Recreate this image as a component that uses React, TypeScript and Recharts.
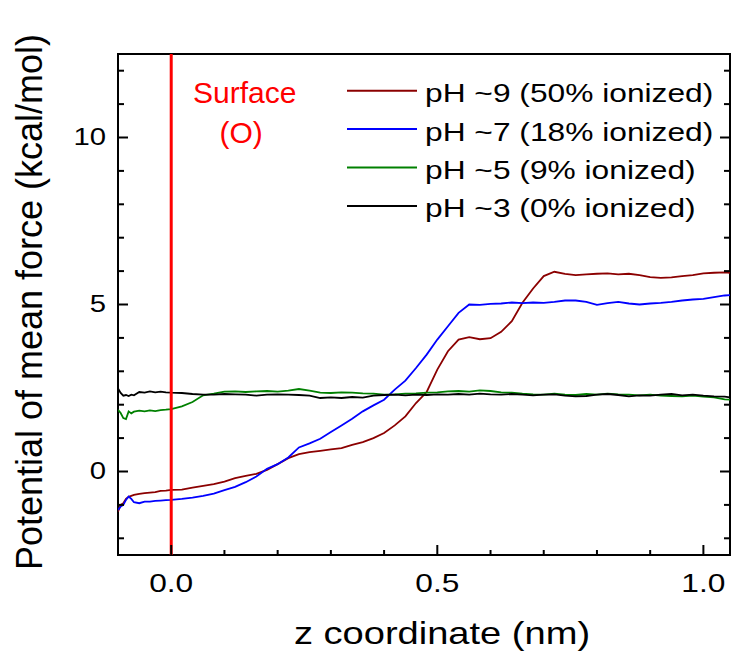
import React from "react";
import { LineChart, Line, XAxis, YAxis, ReferenceLine, ReferenceArea } from "recharts";

// z coordinate (nm)
const zCoord = [
  -0.1, -0.095, -0.09, -0.085, -0.08, -0.075, -0.07, -0.06, -0.05, -0.04, -0.03, -0.02, -0.01,
  0, 0.02, 0.04, 0.06, 0.08, 0.1, 0.12, 0.14, 0.16, 0.18, 0.2, 0.22, 0.24, 0.26, 0.28, 0.3,
  0.32, 0.34, 0.36, 0.38, 0.4, 0.42, 0.44, 0.46, 0.48, 0.5, 0.52, 0.54, 0.56, 0.58, 0.6,
  0.62, 0.64, 0.66, 0.68, 0.7, 0.72, 0.74, 0.76, 0.78, 0.8, 0.82, 0.84, 0.86, 0.88, 0.9,
  0.92, 0.94, 0.96, 0.98, 1.0, 1.02, 1.04, 1.05,
];

// PMF (kcal/mol), one list per pH
const ph9 = [
  -1.2, -1.0, -0.95, -0.82, -0.76, -0.73, -0.7, -0.67, -0.65, -0.63, -0.62, -0.58, -0.57,
  -0.55, -0.54, -0.48, -0.43, -0.38, -0.3, -0.2, -0.13, -0.07, 0.05, 0.22, 0.4, 0.52, 0.58, 0.62, 0.66,
  0.7, 0.8, 0.88, 1.0, 1.15, 1.38, 1.65, 2.05, 2.38, 3.05, 3.6, 3.95, 4.02, 3.96, 3.99,
  4.18, 4.5, 5.05, 5.48, 5.85, 5.98, 5.92, 5.88, 5.9, 5.92, 5.93, 5.9, 5.92, 5.88, 5.82,
  5.8, 5.81, 5.85, 5.88, 5.93, 5.95, 5.96, 5.95,
];
const ph7 = [
  -1.15, -1.05, -1.0, -0.85, -0.75, -0.82, -0.92, -0.95, -0.9, -0.9, -0.88, -0.87, -0.86,
  -0.85, -0.82, -0.78, -0.73, -0.66, -0.56, -0.46, -0.32, -0.15, 0.08, 0.22, 0.42, 0.72, 0.84, 0.98, 1.18,
  1.38, 1.58, 1.8, 1.98, 2.15, 2.45, 2.72, 3.1, 3.5, 3.95, 4.35, 4.75, 5.0, 4.99, 5.02,
  5.03, 5.06, 5.04, 5.06, 5.05, 5.08, 5.12, 5.12, 5.08, 4.99, 5.04, 5.08, 5.03, 5.0, 5.03,
  5.05, 5.08, 5.12, 5.15, 5.17, 5.22, 5.27, 5.28,
];
const ph5 = [
  1.85, 1.75, 1.6, 1.57, 1.8, 1.74, 1.79, 1.82, 1.8, 1.83, 1.81, 1.84, 1.85,
  1.87, 1.95, 2.08, 2.28, 2.33, 2.39, 2.4, 2.38, 2.4, 2.41, 2.39, 2.42, 2.47, 2.42, 2.36, 2.35,
  2.37, 2.36, 2.34, 2.33, 2.3, 2.31, 2.33, 2.34, 2.36, 2.37, 2.4, 2.41, 2.39, 2.43, 2.41,
  2.37, 2.36, 2.33, 2.31, 2.3, 2.33, 2.3, 2.29, 2.32, 2.3, 2.33, 2.31, 2.3, 2.28, 2.3,
  2.27, 2.26, 2.25, 2.27, 2.24, 2.22, 2.16, 2.15,
];
const ph3 = [
  2.49, 2.35, 2.27, 2.29, 2.26, 2.3, 2.28, 2.38, 2.36, 2.4, 2.37, 2.39, 2.37,
  2.36, 2.35, 2.32, 2.3, 2.3, 2.32, 2.31, 2.3, 2.27, 2.3, 2.31, 2.3, 2.29, 2.27, 2.2, 2.22,
  2.2, 2.23, 2.21, 2.27, 2.29, 2.3, 2.28, 2.3, 2.29, 2.31, 2.3, 2.32, 2.3, 2.33, 2.31,
  2.3, 2.32, 2.3, 2.28, 2.3, 2.31, 2.27, 2.25, 2.26, 2.3, 2.32, 2.29, 2.25, 2.28, 2.27,
  2.3, 2.32, 2.28, 2.3, 2.27, 2.25, 2.24, 2.22,
];

const seriesKeys = ["ph9", "ph7", "ph5", "ph3"];
const seriesLabels = [
  "pH ~9 (50% ionized)",
  "pH ~7 (18% ionized)",
  "pH ~5 (9% ionized)",
  "pH ~3 (0% ionized)",
];
const seriesColors = ["#8b0000", "#0000ff", "#008000", "#000000"];

const xTicks = [-0.1, 0, 0.1, 0.2, 0.3, 0.4, 0.5, 0.6, 0.7, 0.8, 0.9, 1.0];
const yTicks = [-2, -1, 0, 1, 2, 3, 4, 5, 6, 7, 8, 9, 10, 11, 12];

const data = zCoord.map((z, i) => ({
  z,
  ph9: ph9[i],
  ph7: ph7[i],
  ph5: ph5[i],
  ph3: ph3[i],
}));

// plot box in page pixels
const LEFT = 118;
const RIGHT = 730;
const TOP = 54;
const BOTTOM = 555;
const FONT = "'Liberation Sans', Arial, sans-serif";

function XTick(props: any) {
  const { x, payload } = props;
  const v = payload.value;
  const major = Math.abs(v * 2 - Math.round(v * 2)) < 1e-9;
  return (
    <g>
      <line x1={x} y1={BOTTOM} x2={x} y2={BOTTOM - (major ? 10 : 5)} stroke="#000" strokeWidth={2} />
      {major && (
        <text
          transform={`translate(${x},592) scale(1.22,1)`}
          textAnchor="middle"
          fontFamily={FONT}
          fontSize={26}
          fill="#000"
        >
          {v.toFixed(1)}
        </text>
      )}
    </g>
  );
}

function YTick(props: any) {
  const { y, payload } = props;
  const v = payload.value;
  const major = v % 5 === 0;
  const len = major ? 10 : 6;
  return (
    <g>
      <line x1={LEFT} y1={y} x2={LEFT + len} y2={y} stroke="#000" strokeWidth={2} />
      <line x1={RIGHT - len} y1={y} x2={RIGHT} y2={y} stroke="#000" strokeWidth={2} />
      {major && (
        <text
          transform={`translate(106,${y + 7}) scale(1.22,1)`}
          textAnchor="end"
          fontFamily={FONT}
          fontSize={24}
          fill="#000"
        >
          {v}
        </text>
      )}
    </g>
  );
}

function SurfaceLabel(props: any) {
  const vb = props.viewBox || { x: 171.5, y: TOP };
  return (
    <g fontFamily={FONT} fontSize={30} fill="#ff0000">
      <text x={vb.x + 73.5} y={vb.y + 49} textAnchor="middle">
        Surface
      </text>
      <text x={vb.x + 70} y={vb.y + 89} textAnchor="middle">
        (O)
      </text>
    </g>
  );
}

function LegendBox() {
  return (
    <svg
      width={732}
      height={652}
      style={{ position: "absolute", left: 0, top: 0, pointerEvents: "none" }}
    >
      {seriesLabels.map((label, i) => {
        const y = 90.7 + i * 38.4;
        return (
          <g key={label}>
            <line x1={347} y1={y} x2={417} y2={y} stroke={seriesColors[i]} strokeWidth={2} />
            <text
              transform={`translate(425,${y + 11.5}) scale(1.22,1)`}
              fontFamily={FONT}
              fontSize={26}
              fill="#000"
            >
              {label}
            </text>
          </g>
        );
      })}
    </svg>
  );
}

export default function App() {
  return (
    <div style={{ position: "absolute", left: 0, top: 0, width: 732, height: 652, background: "#fff" }}>
      <LineChart
        width={732}
        height={652}
        data={data}
        margin={{ top: TOP, right: 732 - RIGHT, bottom: 0, left: 0 }}
      >
        <XAxis
          dataKey="z"
          type="number"
          domain={[-0.1, 1.05]}
          ticks={xTicks}
          interval={0}
          allowDataOverflow
          height={652 - BOTTOM}
          axisLine={false}
          tickLine={false}
          tick={XTick}
          label={() => (
            <text
              transform="translate(442,644) scale(1.19,1)"
              textAnchor="middle"
              fontFamily={FONT}
              fontSize={32}
              fill="#000"
            >
              z coordinate (nm)
            </text>
          )}
        />
        <YAxis
          type="number"
          domain={[-2.5, 12.5]}
          ticks={yTicks}
          interval={0}
          allowDataOverflow
          width={LEFT}
          axisLine={false}
          tickLine={false}
          tick={YTick}
          label={() => (
            <text
              transform="translate(42,302) rotate(-90)"
              textAnchor="middle"
              fontFamily={FONT}
              fontSize={36}
              fill="#000"
            >
              Potential of mean force (kcal/mol)
            </text>
          )}
        />
        {seriesKeys.map((k, i) => (
          <Line
            key={k}
            dataKey={k}
            type="linear"
            stroke={seriesColors[i]}
            strokeWidth={1.8}
            dot={false}
            isAnimationActive={false}
          />
        ))}
        <ReferenceLine x={0} stroke="#ff0000" strokeWidth={3} label={SurfaceLabel} />
        <ReferenceArea
          x1={-0.1}
          x2={1.05}
          y1={-2.5}
          y2={12.5}
          fill="none"
          stroke="#000"
          strokeWidth={2}
          ifOverflow="visible"
        />
      </LineChart>
      <LegendBox />
    </div>
  );
}
